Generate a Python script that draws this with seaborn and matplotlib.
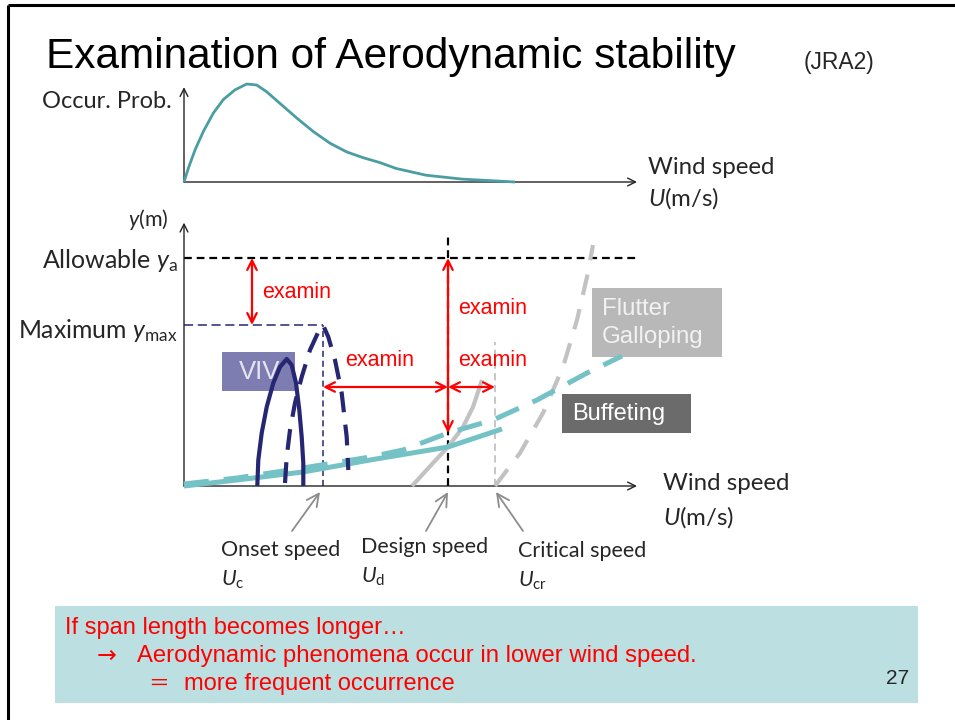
import matplotlib
matplotlib.use("Agg")
import matplotlib.pyplot as plt
import seaborn as sns
from matplotlib.patches import Rectangle

# ---- data -------------------------------------------------------------
# occurrence probability of wind speed (upper sketch)
prob_u = [0.0, 0.43, 1.1, 1.93, 2.93, 3.93, 5.1, 6.27, 7.27, 8.27, 9.6, 11.27,
          12.93, 14.6, 16.27, 17.93, 19.6, 21.2, 24.2, 27.8, 33.1]
prob_p = [0.0, 0.14, 0.33, 0.52, 0.71, 0.85, 0.95, 1.01, 1.0, 0.93, 0.81, 0.66,
          0.52, 0.40, 0.31, 0.25, 0.20, 0.14, 0.07, 0.03, 0.0]

# characteristic speeds and amplitudes (lower sketch)
u_onset = 13.9
u_design = 26.4
u_critical = 31.1
y_allow = 22.8
y_max = 16.1
y_design = 5.3
y_speed_arrow = 9.9

# vortex-induced vibration, present and longer span
viv_u = [7.33, 7.43, 7.77, 8.27, 8.93, 9.6, 10.27, 10.77, 11.2, 11.53, 11.77, 11.93, 11.93]
viv_y = [0.0, 2.6, 5.3, 7.9, 10.3, 11.9, 12.7, 12.1, 10.3, 7.6, 4.9, 2.3, 0.0]
viv2_u = [10.1, 10.27, 10.6, 11.1, 11.77, 12.6, 13.43, 13.9, 14.43, 15.1, 15.77, 16.27, 16.43]
viv2_y = [0.3, 2.9, 5.6, 8.3, 10.9, 13.6, 15.4, 16.1, 14.9, 12.6, 9.3, 4.9, 1.6]

# buffeting response
buf_u = [0.0, 5.3, 11.9, 18.6, 26.4, 31.8]
buf_y = [0.0, 0.6, 1.4, 2.6, 3.9, 5.7]
buf2_u = [0.0, 5.3, 11.9, 18.6, 21.9, 26.4, 30.9, 35.3, 40.3, 43.8]
buf2_y = [0.2, 0.8, 1.8, 2.9, 3.6, 5.3, 6.6, 8.6, 11.3, 13.0]

# flutter / galloping
flt_u = [22.8, 24.9, 26.4, 27.9, 28.9, 29.8]
flt_y = [0.0, 2.3, 3.9, 5.9, 7.9, 10.6]
flt2_u = [31.1, 33.6, 35.9, 37.9, 39.3, 40.3, 40.9]
flt2_y = [0.0, 3.3, 7.3, 11.9, 16.6, 20.9, 24.1]

# ---- style --------------------------------------------------------------
sns.set_theme(style="white")
plt.rcParams["font.family"] = ["Lato", "DejaVu Sans"]
plt.rcParams["mathtext.fontset"] = "custom"
plt.rcParams["mathtext.rm"] = "Lato"
plt.rcParams["mathtext.it"] = "Lato:italic"

W, H = 955, 720
fig = plt.figure(figsize=(W / 100, H / 100), dpi=100)
fig.patch.set_facecolor("white")

NAVY = "#262673"
TEAL = "#4a9ea3"
LTEAL = "#74c2c6"
GRAY = "#c2c2c2"
RED = "#ff0000"
ARIAL = "Liberation Sans"

# background canvas in pixel units for frame, boxes and captions
bg = fig.add_axes([0, 0, 1, 1])
bg.set_xlim(0, W)
bg.set_ylim(H, 0)
bg.set_axis_off()

bg.plot([8, W], [5, 5], color="black", lw=2.2, solid_capstyle="butt")
bg.plot([8, 8], [5, H], color="black", lw=2.2, solid_capstyle="butt")

bg.text(46, 57, "Examination of Aerodynamic stability", family=ARIAL,
        fontsize=30.5, va="center", ha="left", color="black")
bg.text(804, 63, "(JRA2)", family=ARIAL, fontsize=16.5, va="center", ha="left")

bg.text(172, 102, "Occur. Prob.", fontsize=17, ha="right", va="center")
bg.text(648, 168, "Wind speed", fontsize=17.3, ha="left", va="center")
bg.text(648, 198, "$U$(m/s)", fontsize=17.3, ha="left", va="center")

bg.text(168, 220, "$y$(m)", fontsize=15.5, ha="right", va="center")
bg.text(178, 260, "Allowable $y_\\mathrm{a}$", fontsize=18, ha="right", va="center")
bg.text(178, 330, "Maximum $y_\\mathrm{max}$", fontsize=17.8, ha="right", va="center")
bg.text(663, 484, "Wind speed", fontsize=17.3, ha="left", va="center")
bg.text(663, 517, "$U$(m/s)", fontsize=17.3, ha="left", va="center")

bg.text(221, 550, "Onset speed", fontsize=15.5, ha="left", va="center")
bg.text(221, 580, "$U_\\mathrm{c}$", fontsize=15.5, ha="left", va="center")
bg.text(361, 547, "Design speed", fontsize=15.5, ha="left", va="center")
bg.text(361, 577, "$U_\\mathrm{d}$", fontsize=15.5, ha="left", va="center")
bg.text(518, 551, "Critical speed", fontsize=15.5, ha="left", va="center")
bg.text(518, 581, "$U_\\mathrm{cr}$", fontsize=15.5, ha="left", va="center")

# pointers from captions to the speed axis
for (x0, y0), (x1, y1) in [((292, 531), (320, 492)), ((426, 531), (448, 492)),
                           ((523, 531), (496, 492))]:
    bg.annotate("", xy=(x1, y1), xytext=(x0, y0),
                arrowprops=dict(arrowstyle="->", color="#8c8c8c", lw=1.3,
                                mutation_scale=22, shrinkA=0, shrinkB=0))

# labels of the phenomena
bg.add_patch(Rectangle((222, 352), 73, 39, facecolor="#7d7db2", edgecolor="none"))
bg.text(239, 372, "VIV", family=ARIAL, fontsize=18.5, color="#e6e6f0",
        ha="left", va="center")
bg.add_patch(Rectangle((592, 288), 130, 69, facecolor="#b8b8b8", edgecolor="none"))
bg.text(602, 323, "Flutter\nGalloping", family=ARIAL, fontsize=17.3,
        color="#f2f2f2", ha="left", va="center", linespacing=1.3)
bg.add_patch(Rectangle((562, 394), 129, 39, facecolor="#6b6b6b", edgecolor="none"))
bg.text(572, 414, "Buffeting", family=ARIAL, fontsize=17, color="white",
        ha="left", va="center")

# note box
bg.add_patch(Rectangle((55, 606), 863, 97, facecolor="#bce0e2", edgecolor="none"))
bg.text(65, 628, "If span length becomes longer…", family=ARIAL, fontsize=17,
        color=RED, ha="left", va="center")
bg.text(97, 656, "→", family="DejaVu Sans", fontsize=17, color=RED,
        ha="left", va="center")
bg.text(137, 656, "Aerodynamic phenomena occur in lower wind speed.", family=ARIAL,
        fontsize=17.2, color=RED, ha="left", va="center")
bg.text(148, 684, "＝", family=["Noto Sans CJK JP", "DejaVu Sans"], fontsize=15,
        color=RED, ha="left", va="center")
bg.text(184, 684, "more frequent occurrence", family=ARIAL, fontsize=17,
        color=RED, ha="left", va="center")
bg.text(886, 678, "27", family=ARIAL, fontsize=15, ha="left", va="center")


def px_axes(x0, y0, x1, y1):
    ax = fig.add_axes([x0 / W, 1 - y1 / H, (x1 - x0) / W, (y1 - y0) / H])
    ax.set_axis_off()
    ax.patch.set_alpha(0)
    return ax


def axis_arrows(ax, ytip):
    kw = dict(arrowstyle="->", color="#222222", lw=1.0, mutation_scale=14,
              shrinkA=0, shrinkB=0)
    ax.annotate("", xy=(1, 0), xytext=(0, 0), xycoords="axes fraction",
                textcoords="axes fraction", arrowprops=kw)
    ax.annotate("", xy=(0, ytip), xytext=(0, 0), xycoords="axes fraction",
                textcoords="axes fraction", arrowprops=kw)


def curve(ax, u, y, color, lw, dash=None, z=3):
    kw = dict(linestyle=(0, dash)) if dash else {}
    sns.lineplot(x=u, y=y, ax=ax, color=color, lw=lw, sort=False,
                 estimator=None, legend=False, zorder=z, clip_on=False,
                 solid_capstyle="butt", dash_capstyle="butt",
                 solid_joinstyle="round", **kw)


# ---- upper sketch: occurrence probability ---------------------------------
top = px_axes(184, 80, 637, 182)
top.set_xlim(0, 45.3)
top.set_ylim(0, 102 / 97)
axis_arrows(top, 0.93)
curve(top, prob_u, prob_p, TEAL, 2.0)

# ---- lower sketch: response amplitude vs wind speed -----------------------
low = px_axes(184, 220, 637, 486)
low.set_xlim(0, 45.3)
low.set_ylim(0, 26.6)
axis_arrows(low, 0.99)

low.plot([0, 45.4], [y_allow, y_allow], color="black", lw=1.6,
         linestyle=(0, (3.5, 2.2)), clip_on=False, zorder=2)
low.plot([u_design, u_design], [0, 25.1], color="black", lw=1.6,
         linestyle=(0, (3.5, 2.2)), clip_on=False, zorder=2)
low.plot([0, u_onset], [y_max, y_max], color=NAVY, lw=1.1,
         linestyle=(0, (6, 3)), zorder=2)
low.plot([u_onset, u_onset], [0, y_max], color=NAVY, lw=1.1,
         linestyle=(0, (4, 2.5)), zorder=2)
low.plot([u_critical, u_critical], [0, 14.4], color=GRAY, lw=1.3,
         linestyle=(0, (4, 2.5)), zorder=2)

curve(low, flt_u, flt_y, GRAY, 3.0)
curve(low, flt2_u, flt2_y, GRAY, 3.0, dash=(5, 3.5))
curve(low, buf_u, buf_y, LTEAL, 3.6, z=4)
curve(low, buf2_u, buf2_y, LTEAL, 3.6, dash=(5, 3), z=4)
curve(low, viv_u, viv_y, NAVY, 3.0, z=5)
curve(low, viv2_u, viv2_y, NAVY, 3.0, dash=(5, 3), z=5)

red_kw = dict(arrowstyle="<->", color=RED, lw=1.6, mutation_scale=17,
              shrinkA=0, shrinkB=0)
for (a, b) in [((6.8, y_allow), (6.8, y_max)),
               ((u_design, y_allow), (u_design, y_design)),
               ((u_onset, y_speed_arrow), (u_design, y_speed_arrow)),
               ((u_design, y_speed_arrow), (u_critical, y_speed_arrow))]:
    low.annotate("", xy=b, xytext=a, arrowprops=red_kw, zorder=6)

for (u, y) in [(7.8, 19.4), (27.4, 17.8), (16.1, 12.6), (27.4, 12.6)]:
    low.text(u, y, "examin", family=ARIAL, fontsize=15.5, color=RED,
             ha="left", va="center", zorder=6)

fig.savefig("out.png", dpi=100)
